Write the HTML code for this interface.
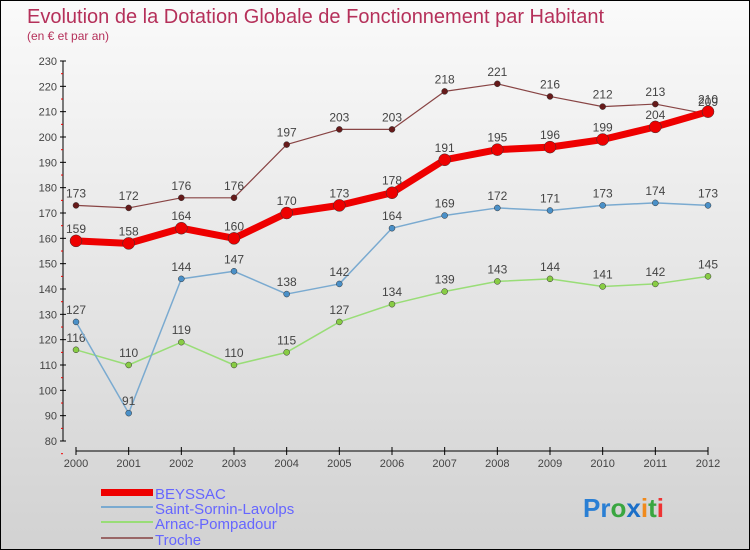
<!DOCTYPE html>
<html><head><meta charset="utf-8"><style>
body{margin:0}
#c{width:748px;height:548px;border:1px solid #000;background:linear-gradient(#fafafa,#d2d2d2);position:relative;font-family:"Liberation Sans",sans-serif;overflow:hidden}
</style></head><body>
<div id="c">
<svg id="s" width="748" height="548">
<text x="26" y="22" font-size="20" fill="#b5305a">Evolution de la Dotation Globale de Fonctionnement par Habitant</text>
<text x="26" y="39" font-size="12" fill="#b5305a">(en € et par an)</text>
<g id="axes"></g><g id="series"></g>
<g font-size="15" fill="#6666ff">
<rect x="100" y="488" width="52" height="7" fill="#e00"/>
<text x="154" y="498">BEYSSAC</text>
<rect x="100" y="505" width="52" height="2" fill="#7aaad0"/>
<text x="154" y="513">Saint-Sornin-Lavolps</text>
<rect x="100" y="520" width="52" height="2" fill="#99dd77"/>
<text x="154" y="528">Arnac-Pompadour</text>
<rect x="100" y="536" width="52" height="2" fill="#996666"/>
<text x="154" y="544">Troche</text>
</g>
<text x="582" y="516" font-size="26" font-weight="bold"><tspan fill="#2a7fd4">Pr</tspan><tspan fill="#3aa640">o</tspan><tspan fill="#1b6fc8">x</tspan><tspan fill="#f08a1c">i</tspan><tspan fill="#3aa640">t</tspan><tspan fill="#e33">i</tspan></text>
</svg></div>
<script>
const years=[2000,2001,2002,2003,2004,2005,2006,2007,2008,2009,2010,2011,2012];
const yTicks=[80,90,100,110,120,130,140,150,160,170,180,190,200,210,220,230];
const beyssac=[159,158,164,160,170,173,178,191,195,196,199,204,210];
const saintSornin=[127,91,144,147,138,142,164,169,172,171,173,174,173];
const arnac=[116,110,119,110,115,127,134,139,143,144,141,142,145];
const troche=[173,172,176,176,197,203,203,218,221,216,212,213,209];
const NS="http://www.w3.org/2000/svg";
const xS=i=>75+i*(707-75)/(years.length-1);
const yS=v=>440-(v-80)*380/150;
function mk(t,a,p){const e=document.createElementNS(NS,t);for(const k in a)e.setAttribute(k,a[k]);p.appendChild(e);return e;}
const ax=document.getElementById('axes');
let yl=mk('line',{x1:62,y1:60,x2:62,y2:440,stroke:'#000'},ax);


yTicks.forEach(v=>{const y=yS(v);
mk('line',{x1:59,y1:y,x2:65,y2:y,stroke:'#000'},ax);
mk('line',{x1:60,y1:y+12.7,x2:62,y2:y+12.7,stroke:'#e00'},ax);
const t=mk('text',{x:56,y:y+4,'font-size':11,fill:'#444','text-anchor':'end'},ax);t.textContent=v;

});
let xl=mk('line',{x1:75,y1:450,x2:707,y2:450,stroke:'#000'},ax);


years.forEach((yr,i)=>{const x=xS(i);
mk('line',{x1:x,y1:446,x2:x,y2:454,stroke:'#000'},ax);
const t=mk('text',{x:x,y:466,'font-size':11,fill:'#444','text-anchor':'middle'},ax);t.textContent=yr;

});
const sg=document.getElementById('series');
function draw(data,name,col,w,r,dot){
const g=mk('g',{},sg);


const p=mk('polyline',{points:data.map((v,i)=>xS(i)+','+yS(v)).join(' '),fill:'none',stroke:col,'stroke-width':w,'stroke-linejoin':'round'},g);


data.forEach((v,i)=>{const c=mk('circle',{cx:xS(i),cy:yS(v),r:r,fill:dot,stroke:'#333','stroke-width':0.5},g);


const t=mk('text',{x:xS(i),y:yS(v)-8,'font-size':12,fill:'#444','text-anchor':'middle'},g);t.textContent=v;

});}
draw(arnac,'arnac','#99dd77',1.5,3,'#88cc44');
draw(saintSornin,'saint-sornin','#7aaad0',1.5,3,'#4a90c8');
draw(troche,'troche','#884444',1.2,3,'#661a1a');
draw(beyssac,'beyssac','#ee0000',7,6,'#ee0000');
</script>
</body></html>
